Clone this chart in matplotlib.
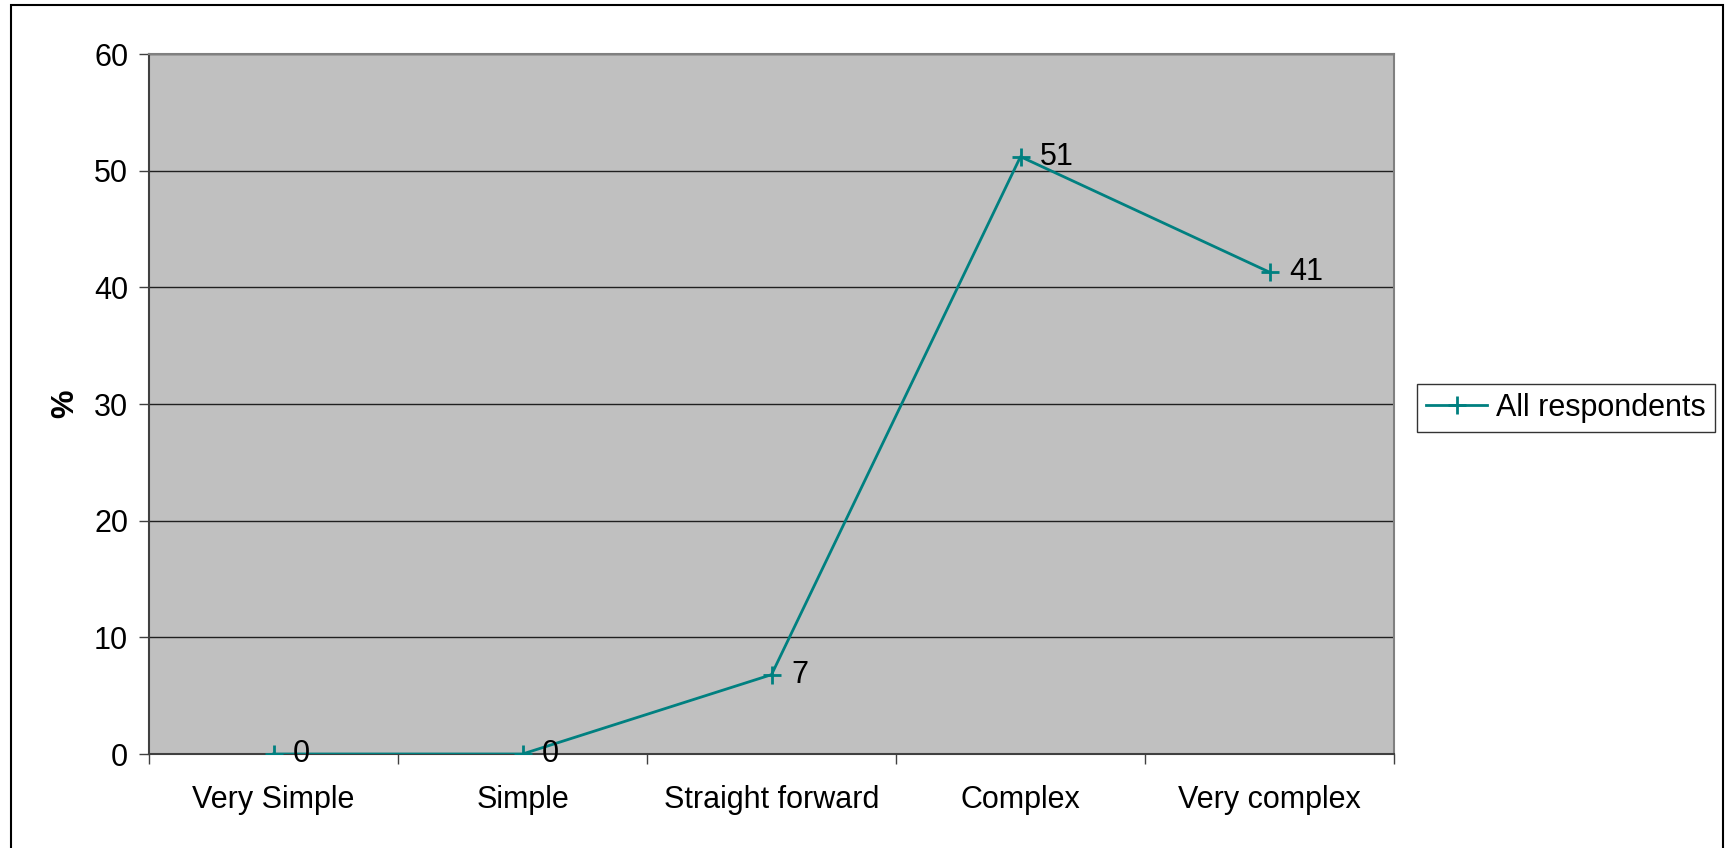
import numpy as np
import matplotlib.pyplot as plt
from matplotlib.patches import Rectangle

plt.rcParams['font.family'] = ['Liberation Sans', 'DejaVu Sans']

categories = ['Very Simple', 'Simple', 'Straight forward', 'Complex', 'Very complex']
values = [0, 0, 6.8, 51.2, 41.3]
series_name = 'All respondents'
y_ticks = [0, 10, 20, 30, 40, 50, 60]

W, H = 1729, 848
fig = plt.figure(figsize=(W / 100, H / 100), dpi=100)
fig.patch.set_facecolor('white')

# outer chart border (bottom edge runs off the image)
fig.patches.append(Rectangle((11 / W, -0.02), (1723 - 11) / W, (848 - 5) / H + 0.02,
                             transform=fig.transFigure, fill=False,
                             edgecolor='black', lw=1.5))

ax = fig.add_axes([149 / W, 1 - 754 / H, (1394 - 149) / W, (754 - 54) / H])
ax.set_facecolor('#c0c0c0')

x = np.arange(len(categories))
line, = ax.plot(x, values, color='#008080', lw=2, marker='+',
                markersize=13, markeredgewidth=2, label=series_name, zorder=3)

for xi, v in zip(x, values):
    ax.annotate(f'{v:.0f}', (xi, v), xytext=(14, 0), textcoords='offset points',
                ha='left', va='center', fontsize=22, color='black', zorder=4)

ax.set_xlim(-0.5, len(categories) - 0.5)
ax.set_ylim(0, 60)
ax.set_yticks(y_ticks)
ax.yaxis.grid(True, color='#202020', lw=1)
ax.set_axisbelow(True)

ax.set_xticks(x)
ax.set_xticklabels(categories, fontsize=22)
ax.set_xticks(np.arange(-0.5, len(categories)), minor=True)
ax.tick_params(axis='x', which='major', length=0, pad=22)
ax.tick_params(axis='x', which='minor', length=7, width=1, color='#404040', direction='out')
ax.tick_params(axis='y', length=7, width=1, color='#404040', labelsize=22, pad=8)

ax.spines['top'].set_color('#808080')
ax.spines['right'].set_color('#808080')
ax.spines['left'].set_color('#404040')
ax.spines['bottom'].set_color('#404040')
for s in ax.spines.values():
    s.set_linewidth(1.5)

ax.set_ylabel('%', fontsize=23, fontweight='bold', labelpad=10)

leg = fig.legend(handles=[line], loc='center left',
                 bbox_to_anchor=(1417 / W, 1 - 408 / H), fontsize=22,
                 frameon=True, fancybox=False, edgecolor='black',
                 handlelength=2.0, handletextpad=0.3, borderpad=0.3,
                 borderaxespad=0)
leg.get_frame().set_linewidth(1)

fig.savefig('out.png', dpi=100)
